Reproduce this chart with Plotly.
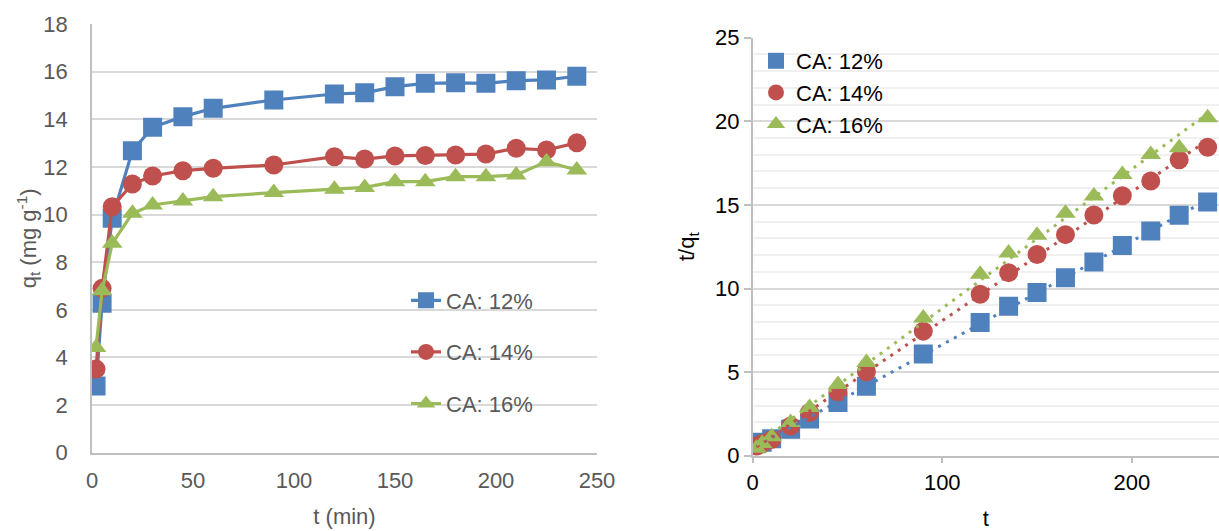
import numpy as np
import plotly.graph_objects as go

# ---- data ----
t_min = [2, 5, 10, 20, 30, 45, 60, 90, 120, 135, 150, 165, 180, 195, 210, 225, 240]
q_12 = [2.80, 6.27, 9.84, 12.68, 13.66, 14.11, 14.46, 14.81, 15.06, 15.11, 15.37, 15.51, 15.53, 15.51, 15.62, 15.65, 15.81]
q_14 = [3.51, 6.90, 10.33, 11.28, 11.62, 11.84, 11.94, 12.08, 12.43, 12.33, 12.46, 12.48, 12.50, 12.54, 12.78, 12.71, 13.01]
q_16 = [4.42, 6.80, 8.79, 10.05, 10.40, 10.57, 10.75, 10.92, 11.06, 11.14, 11.38, 11.38, 11.59, 11.59, 11.66, 12.22, 11.87]
series_names = ["CA: 12%", "CA: 14%", "CA: 16%"]
colors = ["#4F81BD", "#C0504D", "#9BBB59"]
symbols = ["square", "circle", "triangle-up"]

FONT = "Liberation Sans, Arial, sans-serif"
GRAY = "#595959"

fig = go.Figure()
t = np.array(t_min, dtype=float)
qs = [q_12, q_14, q_16]

# left chart: qt vs t
for i, q in enumerate(qs):
    fig.add_trace(go.Scatter(
        x=t_min, y=q, mode="lines+markers", name=series_names[i],
        line=dict(color=colors[i], width=3.2),
        marker=dict(symbol=symbols[i], size=19 if i != 2 else 18, color=colors[i], line=dict(width=0)),
        xaxis="x", yaxis="y", legend="legend", legendgroup="L%d" % i,
    ))

# right chart: t/qt vs t (pseudo-second-order linear form)
for i, q in enumerate(qs):
    tq = t / np.array(q, dtype=float)
    fig.add_trace(go.Scatter(
        x=t_min, y=tq, mode="markers", name=series_names[i],
        marker=dict(symbol=symbols[i], size=19 if i != 2 else 18, color=colors[i], line=dict(width=0)),
        xaxis="x2", yaxis="y2", legend="legend2",
    ))
for i, q in enumerate(qs):
    tq = t / np.array(q, dtype=float)
    k, b = np.polyfit(t, tq, 1)
    xs = np.array([t[0], t[-1]])
    fig.add_trace(go.Scatter(
        x=xs, y=k * xs + b, mode="lines", showlegend=False,
        line=dict(color=colors[i], width=3, dash="3px,6px"),
        xaxis="x2", yaxis="y2", hoverinfo="skip",
    ))

W, H = 1219, 531
fig.update_layout(
    width=W, height=H,
    margin=dict(l=0, r=0, t=0, b=0, autoexpand=False),
    paper_bgcolor="white", plot_bgcolor="white",
    font=dict(family=FONT, size=22, color=GRAY),
    xaxis=dict(
        domain=[92 / W, 597 / W], range=[0, 250], dtick=50, automargin=False,
        showgrid=False, zeroline=False, showline=True, linecolor="#BFBFBF", linewidth=1.5,
        ticks="", ticklabelstandoff=7,
        tickfont=dict(size=22, color=GRAY),
        title=dict(text="t (min)", font=dict(size=22, color=GRAY), standoff=17),
        anchor="y",
    ),
    yaxis=dict(
        domain=[1 - 452.7 / H, 1 - 24 / H], range=[0, 18], dtick=2, automargin=False,
        showgrid=True, gridcolor="#D9D9D9", gridwidth=1.5, zeroline=False,
        showline=True, linecolor="#BFBFBF", linewidth=1.5,
        ticks="", ticklabelstandoff=18,
        tickfont=dict(size=22, color=GRAY),
        title=dict(text="q<sub>t</sub> (mg g<sup>-1</sup>)", font=dict(size=22, color=GRAY), standoff=0),
        anchor="x",
    ),
    xaxis2=dict(
        domain=[752.7 / W, 1.0], range=[0, 246], dtick=100, automargin=False,
        showgrid=False, zeroline=False, showline=True, linecolor="#BFBFBF", linewidth=1.5,
        ticks="outside", ticklen=6, tickcolor="#BFBFBF", tickwidth=1.5,
        tickfont=dict(size=22, color="black"),
        title=dict(text="t", font=dict(size=22, color="black"), standoff=23),
        anchor="y2",
    ),
    yaxis2=dict(
        domain=[1 - 455.7 / H, 1 - 37.7 / H], range=[0, 25], dtick=5, automargin=False,
        showgrid=True, gridcolor="#D9D9D9", gridwidth=1.5, zeroline=False,
        showline=True, linecolor="#BFBFBF", linewidth=1.5,
        ticks="outside", ticklen=7, tickcolor="#BFBFBF", tickwidth=1.5,
        minor=dict(dtick=1, showgrid=True, gridcolor="#F0F0F0", gridwidth=1.5, ticks=""),
        tickfont=dict(size=22, color="black"),
        title=dict(text="t/q<sub>t</sub>", font=dict(size=22, color="black"), standoff=14),
        anchor="x2",
    ),
    legend=dict(
        x=406 / W, y=1 - 279.5 / H, xanchor="left", yanchor="top",
        bgcolor="rgba(0,0,0,0)", tracegroupgap=20,
        font=dict(size=22, color=GRAY), itemwidth=30,
    ),
    legend2=dict(
        x=756 / W, y=1 - 40 / H, xanchor="left", yanchor="top",
        bgcolor="rgba(0,0,0,0)", tracegroupgap=0,
        font=dict(size=22, color="black"), itemwidth=30,
    ),
    showlegend=True,
)

fig.write_html(
    "out.html",
    config={"displayModeBar": False},
    post_script="document.body.style.margin='0';document.body.style.overflow='hidden';",
)
